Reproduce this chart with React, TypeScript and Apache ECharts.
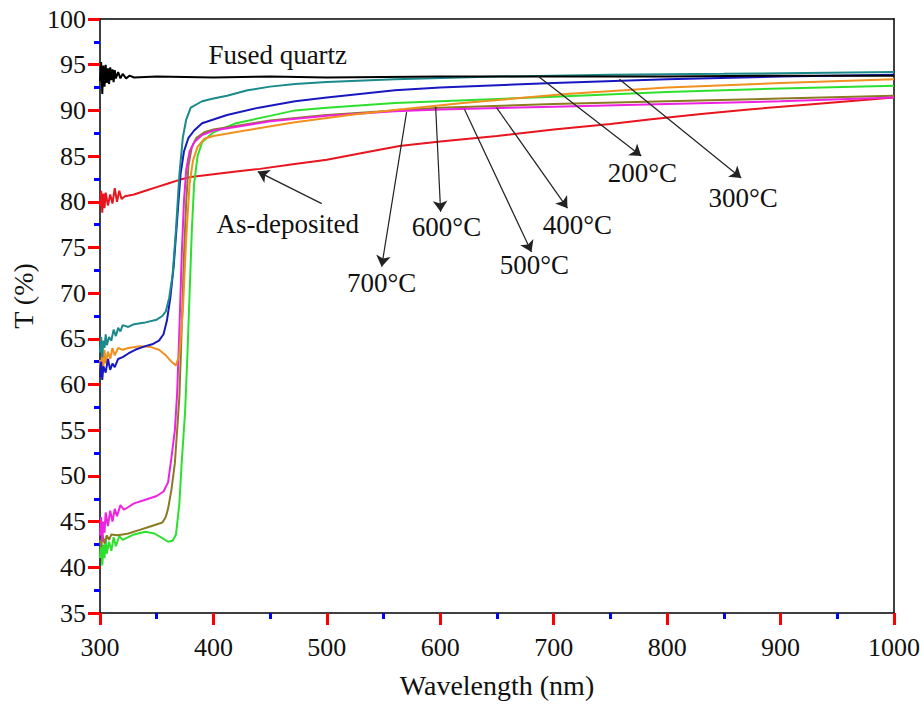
import React, { useEffect, useRef } from "react";
import * as echarts from "echarts";

type P = [number, number];

const fusedQuartz: P[] = [
  [300, 93.2], [301, 95.3], [302, 91.8], [303, 94.9], [304, 92.6], [305, 95.0], [306, 93.0], [307, 94.6],
  [308, 92.9], [309, 94.7], [310, 93.3], [311, 94.5], [312, 93.1], [313, 94.4], [314, 93.5], [316, 94.2],
  [318, 93.5], [320, 94.0], [323, 93.5], [326, 93.8], [330, 93.6], [350, 93.7], [400, 93.6], [450, 93.7],
  [500, 93.6], [600, 93.7], [700, 93.7], [800, 93.7], [900, 93.8], [1000, 93.8],
];

const asDeposited: P[] = [
  [300, 79.5], [301, 81.2], [302, 78.8], [303, 80.9], [304, 79.3], [305, 81.0], [307, 79.6], [309, 80.8],
  [311, 79.8], [313, 81.5], [315, 80.0], [317, 81.2], [319, 80.3], [322, 80.6], [330, 80.8], [340, 81.2],
  [350, 81.6], [360, 82.0], [370, 82.4], [380, 82.7], [400, 83.0], [420, 83.3], [441, 83.6], [470, 84.1],
  [500, 84.6], [530, 85.3], [564, 86.1], [600, 86.6], [650, 87.2], [700, 87.9], [750, 88.5], [784, 89.0],
  [830, 89.6], [872, 90.1], [920, 90.6], [960, 91.0], [1000, 91.4],
];

const c200: P[] = [
  [300, 63.5], [301, 65.2], [302, 63.0], [303, 64.8], [304, 64.0], [305, 65.5], [306, 64.3], [308, 65.2],
  [310, 64.8], [312, 66.0], [314, 65.3], [316, 66.2], [318, 65.8], [320, 66.5], [325, 66.3], [330, 66.6],
  [340, 66.8], [350, 67.1], [355, 67.5], [358, 68.0], [361, 69.5], [364, 72.0], [367, 77.0], [370, 83.0],
  [373, 87.0], [376, 89.0], [380, 90.3], [390, 91.0], [400, 91.3], [412, 91.6], [430, 92.2], [450, 92.6],
  [472, 92.9], [500, 93.1], [560, 93.4], [650, 93.7], [750, 93.9], [850, 94.0], [1000, 94.2],
];

const c300: P[] = [
  [300, 60.8], [301, 62.5], [302, 60.5], [303, 62.0], [305, 61.3], [307, 62.8], [309, 61.6], [311, 62.3],
  [313, 61.9], [316, 62.8], [320, 63.0], [325, 63.4], [331, 63.8], [340, 64.2], [346, 64.4], [352, 64.8],
  [356, 65.5], [359, 67.0], [362, 69.5], [365, 73.0], [368, 78.0], [371, 83.0], [374, 85.5], [378, 87.0],
  [383, 87.8], [390, 88.6], [400, 89.0], [412, 89.5], [440, 90.3], [472, 91.0], [500, 91.4], [560, 92.2],
  [600, 92.5], [700, 93.0], [800, 93.4], [900, 93.7], [1000, 93.9],
];

const c400: P[] = [
  [300, 62.7], [301, 61.5], [302, 63.5], [303, 62.0], [304, 63.8], [305, 62.3], [307, 63.6], [309, 62.8],
  [311, 64.0], [313, 63.2], [316, 64.0], [320, 63.8], [325, 64.0], [335, 64.2], [345, 64.1], [352, 63.8],
  [358, 63.2], [363, 62.5], [367, 62.1], [370, 63.3], [373, 68.0], [376, 76.0], [379, 82.0], [382, 84.5],
  [386, 86.0], [392, 86.9], [400, 87.2], [428, 87.8], [472, 88.7], [520, 89.5], [564, 90.1], [620, 90.8],
  [711, 91.8], [800, 92.5], [900, 93.0], [1000, 93.4],
];

const c500: P[] = [
  [300, 43.0], [301, 42.2], [302, 43.6], [304, 42.6], [306, 43.5], [308, 43.0], [310, 43.6], [315, 43.5],
  [320, 43.6], [325, 43.7], [335, 44.1], [345, 44.5], [355, 44.9], [358, 45.5], [360, 46.4], [363, 48.5],
  [366, 51.4], [368, 55.0], [370, 58.7], [372, 66.0], [374, 74.0], [376, 80.0], [378, 84.0], [381, 86.0],
  [385, 87.0], [392, 87.6], [400, 87.9], [450, 88.9], [500, 89.5], [560, 90.0], [600, 90.3], [700, 90.7],
  [800, 91.0], [900, 91.3], [1000, 91.6],
];

const c600: P[] = [
  [300, 43.5], [301, 45.5], [302, 42.8], [303, 45.0], [304, 43.8], [305, 46.0], [307, 44.5], [309, 46.2],
  [311, 45.0], [313, 46.4], [315, 45.6], [318, 46.8], [321, 46.3], [325, 46.6], [330, 47.0], [340, 47.4],
  [350, 47.8], [356, 48.3], [360, 49.3], [363, 52.0], [366, 55.0], [368, 59.0], [370, 66.0], [372, 74.0],
  [374, 80.0], [376, 83.5], [379, 85.5], [383, 86.5], [390, 87.3], [400, 87.8], [450, 88.8], [500, 89.4],
  [560, 89.9], [600, 90.1], [700, 90.4], [800, 90.7], [900, 91.0], [1000, 91.4],
];

const c700: P[] = [
  [300, 41.0], [301, 43.0], [302, 40.2], [303, 42.5], [304, 41.0], [305, 43.2], [306, 41.5], [308, 42.8],
  [310, 41.8], [312, 43.3], [314, 42.3], [317, 43.4], [320, 43.0], [325, 43.3], [330, 43.6], [340, 43.9],
  [348, 43.7], [355, 43.2], [360, 42.8], [364, 42.9], [367, 43.6], [370, 47.0], [372, 51.4], [375, 57.0],
  [377, 63.0], [379, 70.0], [381, 77.0], [383, 82.0], [386, 85.0], [390, 86.5], [400, 87.6], [420, 88.6],
  [450, 89.4], [472, 90.0], [500, 90.3], [560, 90.8], [600, 91.0], [700, 91.5], [800, 92.0], [900, 92.4],
  [1000, 92.7],
];

// annotation arrows: [fromNm, fromT, toNm, toT] (arrow head at "to")
const arrows: [number, number, number, number][] = [
  [495.5, 79.8, 439.1, 83.3],
  [570.3, 89.8, 548.3, 72.9],
  [595.9, 90.4, 600.3, 78.9],
  [621.4, 90.1, 680.4, 74.5],
  [649.6, 90.3, 712.1, 79.3],
  [685.7, 93.8, 777.2, 85.0],
  [757.9, 93.4, 865.3, 82.6],
];

const labelTexts = ["Fused quartz", "As-deposited", "700°C", "600°C", "500°C", "400°C", "200°C", "300°C"];
const labelPos: P[] = [
  [456.7, 96.1], [465.5, 77.6], [548.3, 71.1], [605.5, 77.2], [683.0, 73.1], [720.9, 77.5], [778.1, 83.2], [867.0, 80.4],
];

const FONT = "'Liberation Serif', 'DejaVu Serif', serif";
const INK = "#000";

export default function App() {
  const ref = useRef<HTMLDivElement>(null);
  useEffect(() => {
    if (!ref.current) return;
    const chart = echarts.init(ref.current, undefined, { renderer: "svg" });
    const mk = (name: string, data: P[], color: string, extra: any = {}) => ({
      name,
      type: "line",
      data,
      symbol: "none",
      showSymbol: false,
      lineStyle: { color, width: 2 },
      itemStyle: { color },
      emphasis: { disabled: true },
      z: 3,
      ...extra,
    });
    const frameAxis = (min: number, max: number, interval: number, position: string) => ({
      type: "value",
      min,
      max,
      interval,
      position,
      axisLine: { show: true, lineStyle: { color: INK, width: 1.5 } },
      axisTick: { show: false },
      axisLabel: { show: false },
      splitLine: { show: false },
    });
    chart.setOption({
      animation: false,
      grid: { left: 100, right: 28, top: 19, bottom: 86 },
      xAxis: [
        {
          type: "value",
          min: 300,
          max: 1000,
          interval: 100,
          position: "bottom",
          name: "Wavelength (nm)",
          nameLocation: "middle",
          nameGap: 58,
          nameTextStyle: { fontFamily: FONT, fontSize: 28, color: "#111" },
          axisLine: { show: true, lineStyle: { color: INK, width: 1.5 } },
          axisTick: { show: true, length: 12, lineStyle: { color: "#f00", width: 3 } },
          minorTick: { show: true, splitNumber: 2, length: 6, lineStyle: { color: "#00f", width: 3 } },
          splitLine: { show: false },
          axisLabel: { fontFamily: FONT, fontSize: 26, color: "#111", margin: 21, formatter: (v: number) => String(v) },
        },
        frameAxis(300, 1000, 100, "top"),
      ],
      yAxis: [
        {
          type: "value",
          min: 35,
          max: 100,
          interval: 5,
          position: "left",
          axisLine: { show: true, lineStyle: { color: INK, width: 1.5 } },
          axisTick: { show: true, length: 12, lineStyle: { color: "#f00", width: 3 } },
          minorTick: { show: true, splitNumber: 2, length: 6, lineStyle: { color: "#00f", width: 3 } },
          splitLine: { show: false },
          axisLabel: { fontFamily: FONT, fontSize: 26, color: "#111", margin: 14 },
        },
        frameAxis(35, 100, 5, "right"),
      ],
      graphic: [
        {
          type: "text",
          x: 23,
          y: 296,
          rotation: Math.PI / 2,
          style: { text: "T (%)", fontFamily: FONT, fontSize: 28, fill: "#111", textAlign: "center", textVerticalAlign: "middle" },
        },
      ],
      series: [
        mk("As-deposited", asDeposited, "#e8141e"),
        mk("700°C", c700, "#2ee02e"),
        mk("500°C", c500, "#8a7a22"),
        mk("600°C", c600, "#ee22e0"),
        mk("400°C", c400, "#f0901e"),
        mk("300°C", c300, "#1818c0"),
        mk("200°C", c200, "#1a8a8a"),
        mk("Fused quartz", fusedQuartz, "#000000", {
          markLine: {
            silent: true,
            symbol: ["none", "arrow"],
            symbolSize: 11,
            lineStyle: { color: "#222", width: 1.2, type: "solid" },
            label: { show: false },
            emphasis: { disabled: true },
            data: arrows.map((a) => [{ coord: [a[0], a[1]] }, { coord: [a[2], a[3]] }]),
          },
          markPoint: {
            silent: true,
            symbolSize: 0,
            data: labelTexts.map((t, i) => ({
              coord: labelPos[i],
              label: {
                show: true,
                position: "inside",
                formatter: t,
                fontFamily: FONT,
                fontSize: 27,
                color: "#111",
              },
            })),
          },
        }),
      ],
    });
    return () => chart.dispose();
  }, []);
  return <div ref={ref} style={{ position: "fixed", left: 0, top: 0, width: 923, height: 704, background: "#fff" }} />;
}
